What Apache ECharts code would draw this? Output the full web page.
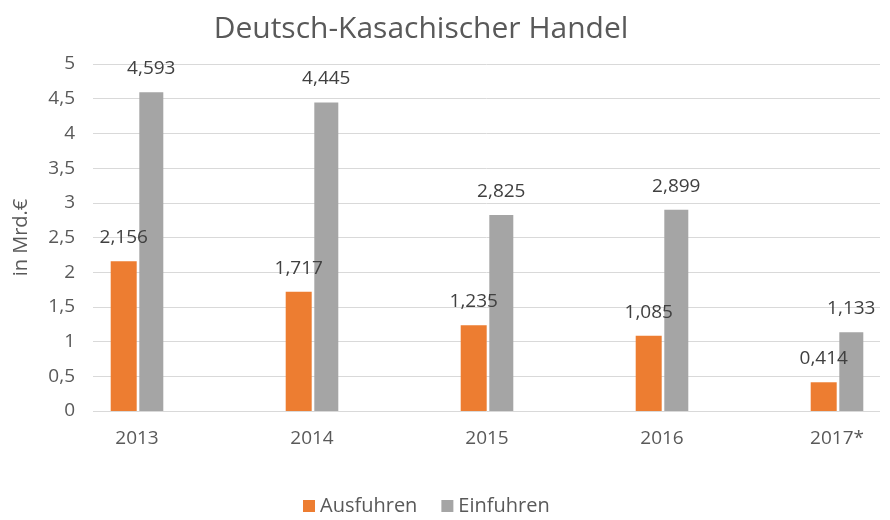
<!DOCTYPE html>
<html>
<head>
<meta charset="utf-8">
<script src="https://cdn.jsdelivr.net/npm/echarts@6/dist/echarts.min.js"></script>
<style>
    html, body { margin: 0; padding: 0; background: #fff; }
    #chart { width: 890px; height: 520px; }
</style>
</head>
<body>
<div id="chart"></div>
<script>
    // Daten aus dem Bild
    const years = ['2013', '2014', '2015', '2016', '2017*']
    const ausfuhren = [2.156, 1.717, 1.235, 1.085, 0.414]
    const einfuhren = [4.593, 4.445, 2.825, 2.899, 1.133]

    const textColor = '#595959'
    const font = '"Open Sans", "Noto Sans", sans-serif'

    const fmt = (v) => String(v).replace('.', ',')
    const fmt3 = (v) => v.toFixed(3).replace('.', ',')

    const chart = echarts.init(document.getElementById('chart'))

    const labelStyle = {
        show: true,
        position: 'top',
        distance: 14,
        color: '#404040',
        fontSize: 19,
        fontFamily: font,
        formatter: (p) => fmt3(p.value)
    }

    chart.setOption({
        animation: false,
        title: {
            text: 'Deutsch-Kasachischer Handel',
            left: 416,
            textAlign: 'center',
            top: 9,
            textStyle: { color: textColor, fontSize: 30, fontWeight: 'normal', fontFamily: font }
        },
        legend: {
            bottom: -1,
            left: 298,
            itemWidth: 12,
            itemHeight: 12,
            itemGap: 24,
            icon: 'rect',
            textStyle: { color: textColor, fontSize: 20, fontFamily: font },
            data: ['Ausfuhren', 'Einfuhren']
        },
        // grid 0: Achse + Gitternetz, grid 1: Balken (Kategorien auf den Ticks)
        grid: [
            { left: 93, right: 10, top: 64, bottom: 109 },
            { left: 137, right: 53, top: 64, bottom: 109 }
        ],
        xAxis: [
            { gridIndex: 0, type: 'category', data: years, show: false },
            {
                gridIndex: 1,
                type: 'category',
                data: years,
                boundaryGap: false,
                axisLine: { show: false },
                axisTick: { show: false },
                splitLine: { show: false },
                axisLabel: { color: textColor, fontSize: 19, fontFamily: font, margin: 18 }
            }
        ],
        yAxis: [
            {
                gridIndex: 0,
                type: 'value',
                min: 0,
                max: 5,
                interval: 0.5,
                name: 'in Mrd.€',
                nameLocation: 'middle',
                nameGap: 62,
                nameTextStyle: { color: textColor, fontSize: 20, fontFamily: font },
                axisLine: { show: false },
                axisTick: { show: false },
                axisLabel: { color: textColor, fontSize: 19, fontFamily: font, margin: 18, formatter: (v) => fmt(v) },
                splitLine: { lineStyle: { color: '#d9d9d9', width: 1 } }
            },
            { gridIndex: 1, type: 'value', min: 0, max: 5, interval: 0.5, show: false, splitLine: { show: false } }
        ],
        series: [
            {
                name: 'Ausfuhren',
                type: 'bar',
                xAxisIndex: 1,
                yAxisIndex: 1,
                data: ausfuhren,
                barWidth: 26,
                barGap: '10%',
                itemStyle: { color: '#ed7d31' },
                label: labelStyle
            },
            {
                name: 'Einfuhren',
                type: 'bar',
                xAxisIndex: 1,
                yAxisIndex: 1,
                data: einfuhren,
                barWidth: 24,
                barGap: '10%',
                itemStyle: { color: '#a5a5a5' },
                label: labelStyle
            }
        ]
    })
</script>
</body>
</html>
